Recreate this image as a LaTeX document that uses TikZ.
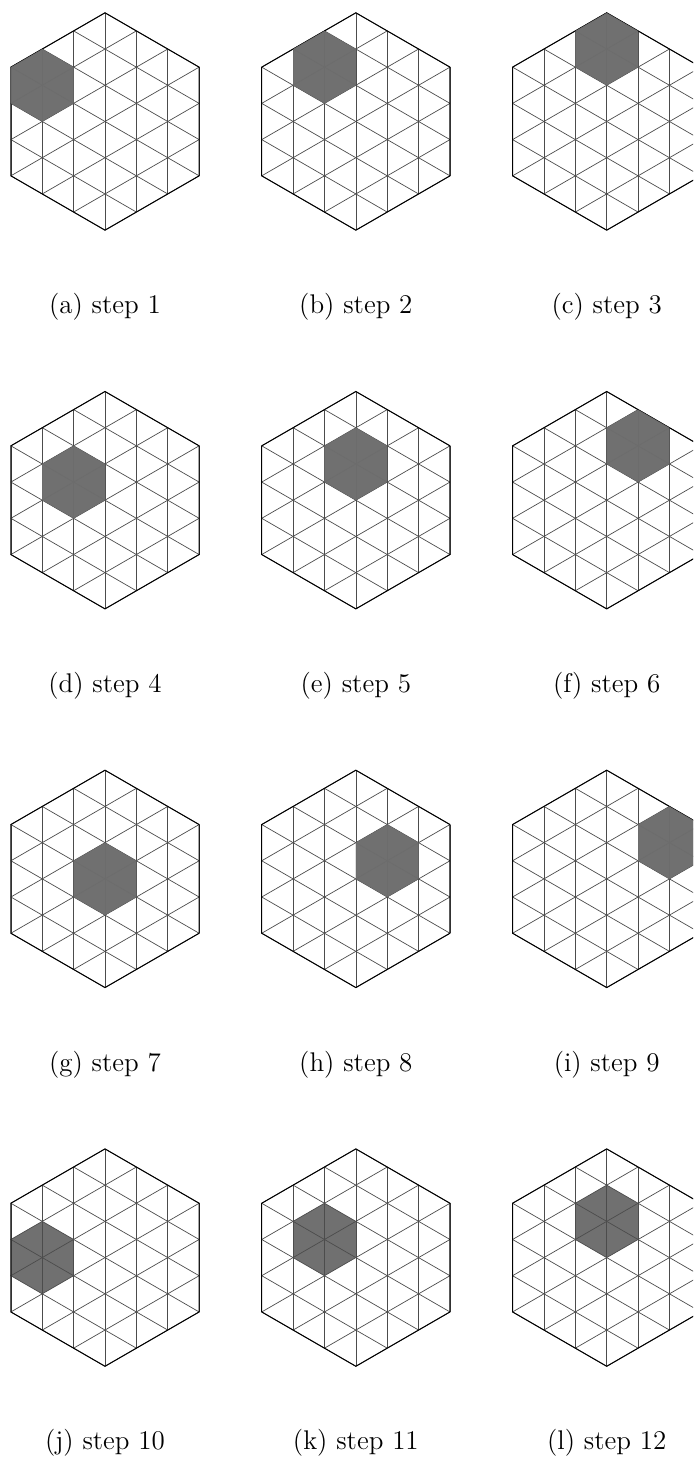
\documentclass[tikz,border=0pt]{standalone}
\usepackage{tikz}
\tikzset{gridline/.style={line width=0.35pt,black!70},rim/.style={line width=0.5pt,black},cellfill/.style={fill=black!56},steplabel/.style={font=\fontsize{13.5}{16}\selectfont}}
\newcommand{\sd}{36.23}
\newcommand{\hd}{31.376}
\begin{document}
\begin{tikzpicture}[x=0.5pt,y=0.5pt]
\useasboundingbox (0,0) rectangle (693,1458);\clip (0,0) rectangle (693,1458);
\foreach \col/\row/\du/\dv/\lab/\num/\op in {0/0/-2/2/a/1/0.9,1/0/-1/3/b/2/0.9,2/0/0/4/c/3/0.9,0/1/-1/1/d/4/0.9,1/1/0/2/e/5/0.9,2/1/1/3/f/6/0.9,0/2/0/0/g/7/0.9,1/2/1/1/h/8/0.9,2/2/2/2/i/9/0.9,0/3/-2/0/j/10/0,1/3/-1/1/k/11/0,2/3/0/2/l/12/0}{
\begin{scope}[shift={(105+250.85*\col,1336.5-378.7*\row)}]
\fill[cellfill] ({\du*\hd},{\dv*\sd/2}) +(30:\sd)--+(90:\sd)--+(150:\sd)--+(210:\sd)--+(270:\sd)--+(330:\sd)--cycle;
\foreach \a in {0,60,120}\foreach \k in {-3,...,3}\draw[gridline,rotate=\a] ({\k*\hd},{-(3-abs(\k)/2)*\sd})--({\k*\hd},{(3-abs(\k)/2)*\sd});
\draw[rim] (30:{3*\sd})--(90:{3*\sd})--(150:{3*\sd})--(210:{3*\sd})--(270:{3*\sd})--(330:{3*\sd})--cycle;
\fill[cellfill,fill opacity=\op] ({\du*\hd},{\dv*\sd/2}) +(30:\sd)--+(90:\sd)--+(150:\sd)--+(210:\sd)--+(270:\sd)--+(330:\sd)--cycle;
\end{scope}
\node[steplabel] (cap\lab) at (105+250.85*\col,1151-378.7*\row){(\lab) step \num};}
\end{tikzpicture}
\end{document}
